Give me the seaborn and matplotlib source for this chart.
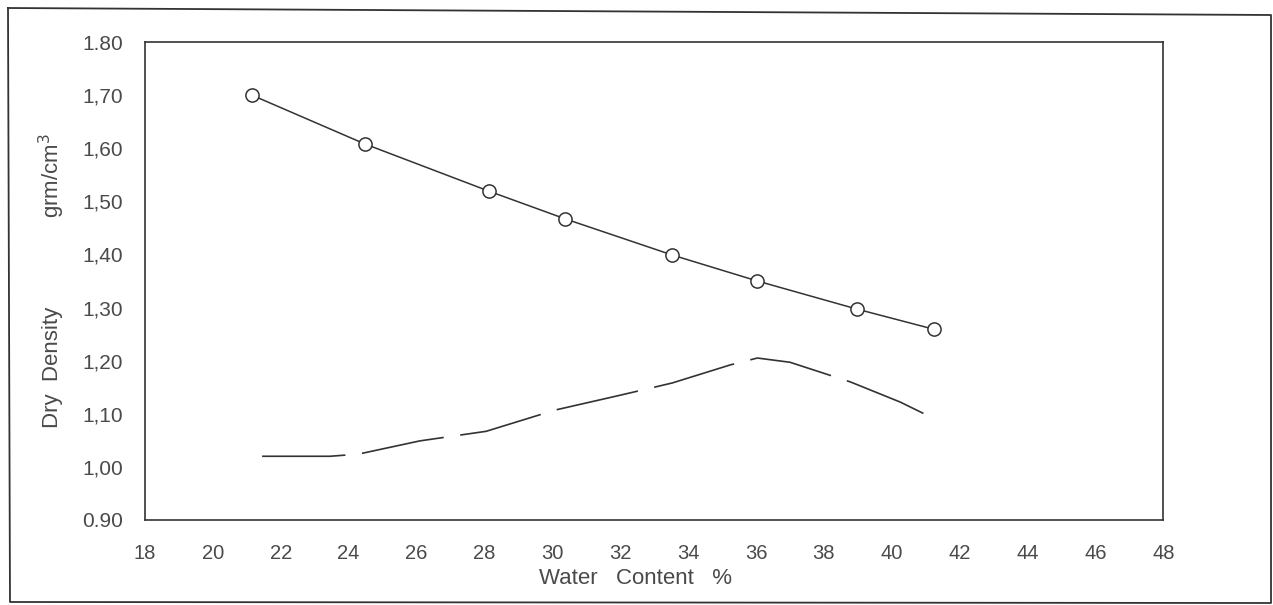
import numpy as np
import pandas as pd
import seaborn as sns
import matplotlib.pyplot as plt
from matplotlib.lines import Line2D

# measured points (open circles)
water = [21.15, 24.48, 28.14, 30.38, 33.53, 36.04, 38.98, 41.25]
density = [1.70, 1.608, 1.519, 1.467, 1.399, 1.350, 1.297, 1.259]

# dashed curve
water_c = [21.45, 23.45, 24.28, 26.1, 28.05, 30.08, 32.0, 33.53, 35.24,
           36.04, 37.0, 38.78, 40.25, 41.08]
density_c = [1.020, 1.020, 1.024, 1.049, 1.067, 1.107, 1.135, 1.158, 1.192,
             1.205, 1.197, 1.160, 1.122, 1.096]

xticks = list(range(18, 49, 2))
yticks = [0.90, 1.00, 1.10, 1.20, 1.30, 1.40, 1.50, 1.60, 1.70, 1.80]
ylabels = ['0.90', '1,00', '1,10', '1,20', '1,30', '1,40', '1,50', '1,60',
           '1,70', '1.80']

sns.set_style('white')
plt.rcParams['font.family'] = ['Liberation Sans', 'DejaVu Sans']

ink = '#333333'
txt = '#4a4a4a'

fig = plt.figure(figsize=(12.73, 6.05), dpi=100)
ax = fig.add_axes([0.1139, 0.1405, 0.8, 0.79])

df = pd.DataFrame({'w': water, 'd': density})
sns.lineplot(data=df, x='w', y='d', ax=ax, color=ink, linewidth=1.1,
             marker='o', markersize=9.5, markerfacecolor='white',
             markeredgecolor=ink, markeredgewidth=1.1)

dc = pd.DataFrame({'w': water_c, 'd': density_c})
sns.lineplot(data=dc, x='w', y='d', ax=ax, color=ink, linewidth=1.2,
             linestyle=(0, (50, 10)))

ax.set_xlim(18, 48)
ax.set_ylim(0.90, 1.80)
ax.set_xticks(xticks)
ax.set_xticklabels([str(t) for t in xticks])
ax.set_yticks(yticks)
ax.set_yticklabels(ylabels)
ax.tick_params(axis='both', direction='in', length=2, width=0.8,
               color=ink, labelsize=15, labelcolor=txt)
ax.tick_params(axis='x', pad=17, labelsize=14.5)
ax.tick_params(axis='y', pad=16)
ax.set_xlabel('')
ax.set_ylabel('')
for s in ax.spines.values():
    s.set_color(ink)
    s.set_linewidth(1.2)

fig.text(0.041, 0.393, 'Dry  Density', rotation=90, ha='center', va='center',
         fontsize=16, color=txt)
fig.text(0.041, 0.709, 'grm/cm$^3$', rotation=90, ha='center', va='center',
         fontsize=16, color=txt)
fig.text(0.499, 0.0446, 'Water   Content   %', ha='center', va='center',
         fontsize=16, color=txt)

# outer frame of the scanned figure
W, H = 1273, 605
fx = np.array([8, 1271, 1271, 10, 8]) / W
fy = 1 - np.array([8, 15, 603, 602, 8]) / H
fig.add_artist(Line2D(fx, fy, color=ink, linewidth=1.3,
                      transform=fig.transFigure))

fig.savefig('out.png', dpi=100)
